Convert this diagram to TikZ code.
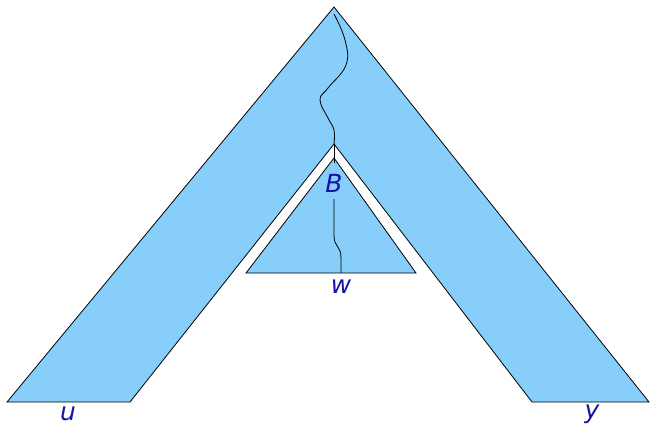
\documentclass[tikz,border=0pt]{standalone}
\usepackage{fontspec}
\setmainfont{DejaVu Sans}
\usetikzlibrary{positioning}

\definecolor{legblue}{RGB}{135,206,250}
\definecolor{labelblue}{RGB}{20,20,170}

\begin{document}
\begin{tikzpicture}[
    x=1bp, y=-1bp,
    region/.style={draw, fill=legblue, line width=0.8pt, line join=miter},
    trace/.style={draw, line width=0.8pt},
    lbl/.style={text=labelblue, font=\fontsize{25}{30}\selectfont\itshape, inner sep=0pt}
]
    \useasboundingbox (0,0) rectangle (652,427);

    % Outer wedge
    \coordinate (top) at (334,7);
    \coordinate (inner) at (334,144);
    \coordinate (ul) at (7,402);
    \coordinate (ur) at (130,402);
    \coordinate (yl) at (532,402);
    \coordinate (yr) at (649,402);
    \draw[region] (top) -- (yr) -- (yl) -- (inner) -- (ur) -- (ul) -- cycle;

    % Inner triangle
    \coordinate (tri) at (334,158);
    \coordinate (bl) at (246,273);
    \coordinate (br) at (416,273);
    \draw[region] (tri) -- (br) -- (bl) -- cycle;

    % Labels
    \node[lbl] (B) at (334,183) {B};
    \node[lbl] (w) at (341,287) {w};
    \node[lbl] (u) at (68,414) {u};
    \node[lbl] (y) at (592,414) {y};

    % Traces
    \coordinate (s) at (334,14);
    \coordinate (wb) at (341,273);
    \draw[trace] plot[smooth, tension=0.7] coordinates {(s) (345,40) (346,65) (328,88) (320,100) (328,118) (334,130) (inner)};
    \draw[trace] (inner) -- (334,163);
    \draw[trace] (334,199) -- (334,235) .. controls (334,248) and (341,245) .. (341,258) -- (wb);
\end{tikzpicture}
\end{document}
